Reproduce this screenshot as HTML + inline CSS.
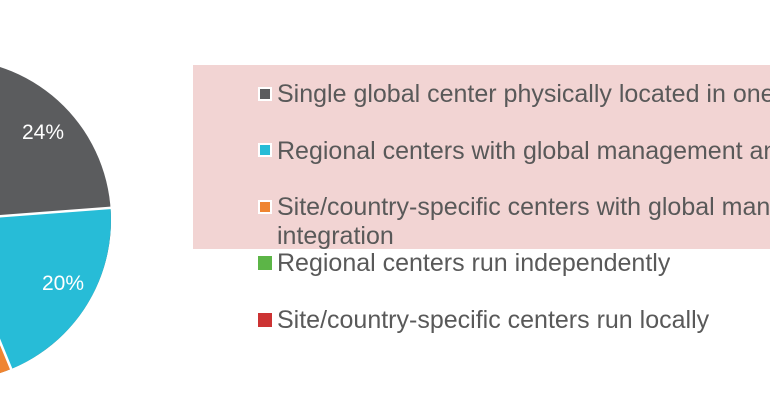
<!DOCTYPE html>
<html><head><style>
html,body{margin:0;padding:0;background:#fff;width:770px;height:407px;overflow:hidden;position:relative;font-family:"Liberation Sans",Arial,sans-serif}
.box{position:absolute;left:193px;top:65px;width:577px;height:184px;background:#f2d4d3}
.t{position:absolute;left:277px;font-size:25px;color:#595959;white-space:nowrap;line-height:29px;max-width:493px;overflow:hidden}
.m{position:absolute;left:258px;width:10px;height:10px;border:2px solid #fff}
</style></head><body>
<svg width="770" height="407" style="position:absolute;left:0;top:0">
<circle cx="-50" cy="220" r="161" fill="#5b5c5e"/>
<path d="M-50 220 L110.5 207.9 A161 161 0 0 1 11.1 369 Z" fill="#27bcd7"/>
<path d="M-50 220 L11.1 369 A161 161 0 0 1 -37.9 380.5 Z" fill="#ef8531"/>
<line x1="-50" y1="220" x2="112" y2="207.8" stroke="#fff" stroke-width="2.5"/>
<line x1="-50" y1="220" x2="12" y2="371" stroke="#fff" stroke-width="2.5"/>
<text x="43" y="139" fill="#fff" font-size="21" text-anchor="middle" font-family="Liberation Sans">24%</text>
<text x="63" y="290" fill="#fff" font-size="21" text-anchor="middle" font-family="Liberation Sans">20%</text>
</svg>
<div class="box"></div>
<div class="m" style="top:87px;background:#5b5c5e"></div>
<div class="t" style="top:80px">Single global center physically located in one place</div>
<div class="m" style="top:143px;background:#27bcd7"></div>
<div class="t" style="top:137px">Regional centers with global management and integration</div>
<div class="m" style="top:200px;background:#ef8531"></div>
<div class="t" style="top:193px">Site/country-specific centers with global management and<br>integration</div>
<div class="m" style="top:256px;background:#5cb547;border-color:transparent"></div>
<div class="t" style="top:249px">Regional centers run independently</div>
<div class="m" style="top:313px;background:#cc3333;border-color:transparent"></div>
<div class="t" style="top:306px">Site/country-specific centers run locally</div>
</body></html>
